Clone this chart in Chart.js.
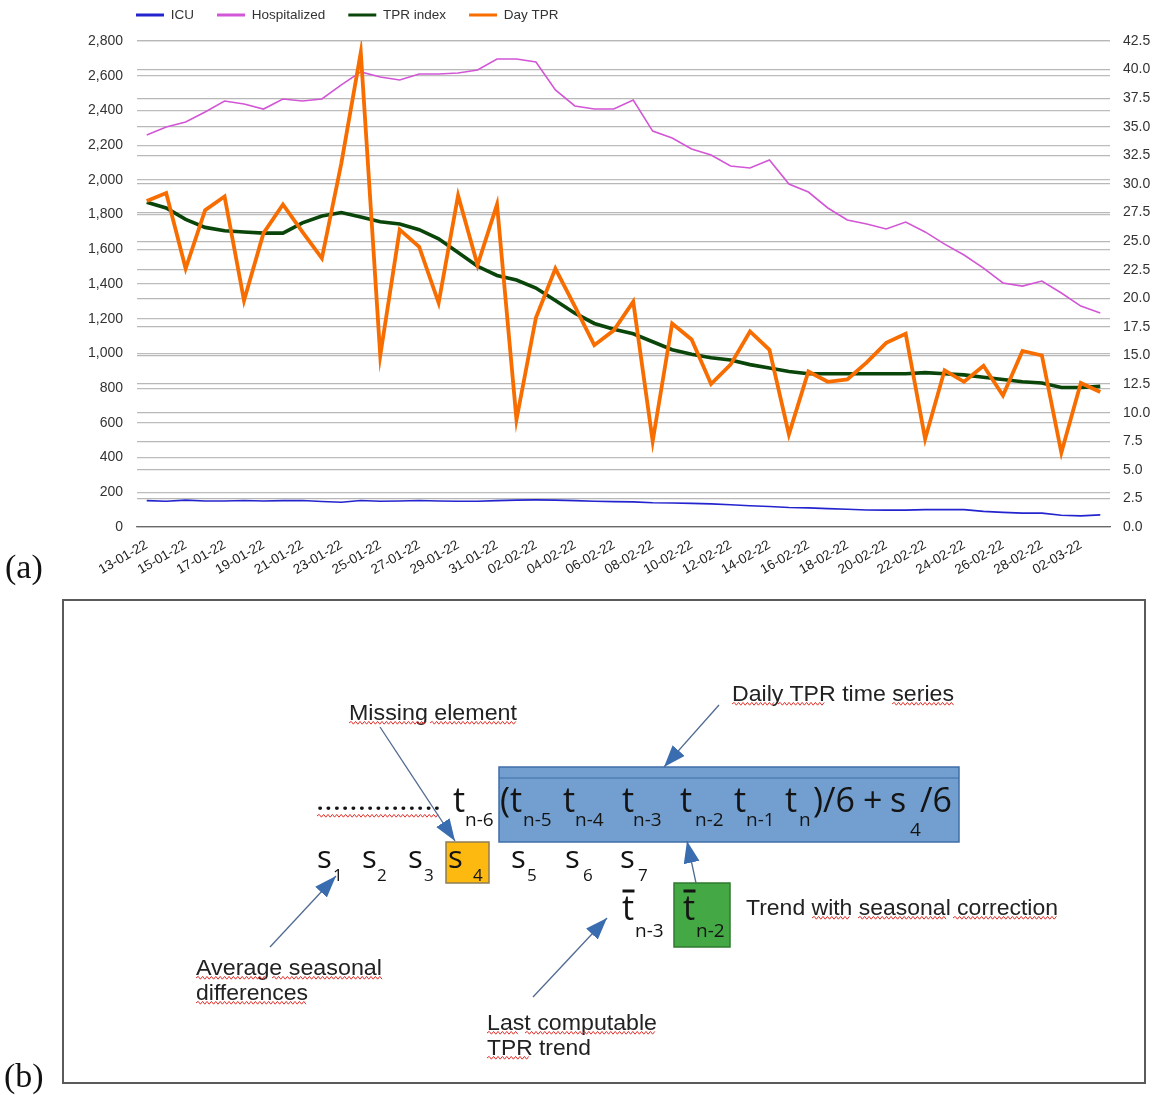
<!DOCTYPE html>
<html>
<head>
<meta charset="utf-8">
<script src="https://cdn.jsdelivr.net/npm/chart.js@4.4.1/dist/chart.umd.min.js"></script>
<style>
  html, body { margin: 0; padding: 0; background: #fff; }
  #wrap { position: relative; width: 1158px; height: 1095px; overflow: hidden; background: #fff; }
  #chart { position: absolute; left: 0; top: 0; }
  #diag { position: absolute; left: 0; top: 0; }
</style>
</head>
<body>
<div id="wrap">
  <canvas id="chart" width="1158" height="600"></canvas>
  <svg id="diag" width="1158" height="1095" xmlns="http://www.w3.org/2000/svg"></svg>
</div>
<script>
// ---------- data ----------
const dates = ['13-01-22','14-01-22','15-01-22','16-01-22','17-01-22','18-01-22','19-01-22','20-01-22','21-01-22','22-01-22',
  '23-01-22','24-01-22','25-01-22','26-01-22','27-01-22','28-01-22','29-01-22','30-01-22','31-01-22','01-02-22',
  '02-02-22','03-02-22','04-02-22','05-02-22','06-02-22','07-02-22','08-02-22','09-02-22','10-02-22','11-02-22',
  '12-02-22','13-02-22','14-02-22','15-02-22','16-02-22','17-02-22','18-02-22','19-02-22','20-02-22','21-02-22',
  '22-02-22','23-02-22','24-02-22','25-02-22','26-02-22','27-02-22','28-02-22','01-03-22','02-03-22','03-03-22'];

const icu = [152,148,155,150,150,153,150,152,153,147,143,153,148,150,153,150,148,148,152,155,
  156,155,152,148,146,145,140,138,136,133,128,122,118,112,110,106,102,98,97,97,
  100,100,100,90,84,80,80,68,64,70];

const hospitalized = [2258,2305,2333,2391,2454,2437,2408,2466,2454,2466,2547,2622,2593,2575,2610,2610,2616,2633,2696,2696,
  2679,2518,2426,2408,2408,2460,2281,2241,2178,2143,2080,2068,2114,1976,1930,1838,1769,1746,1717,1757,
  1700,1630,1567,1492,1406,1388,1417,1348,1273,1233];

const tprIndex = [28.4,27.9,26.9,26.2,25.9,25.8,25.7,25.7,26.6,27.2,27.5,27.1,26.7,26.5,26.0,25.2,24.0,22.8,22.0,21.6,
  20.9,19.8,18.7,17.8,17.3,16.9,16.2,15.5,15.1,14.8,14.6,14.2,13.9,13.6,13.4,13.4,13.4,13.4,13.4,13.4,
  13.5,13.4,13.3,13.1,12.9,12.7,12.6,12.2,12.2,12.3];

const dayTpr = [28.5,29.2,22.6,27.7,28.9,19.8,25.7,28.2,25.8,23.5,31.8,41.5,15.0,26.0,24.5,19.6,29.0,22.9,28.2,9.4,
  18.3,22.6,19.3,15.9,17.2,19.7,7.5,17.8,16.4,12.5,14.2,17.1,15.5,8.1,13.6,12.7,12.9,14.4,16.1,16.9,
  7.7,13.7,12.7,14.1,11.5,15.4,15.0,6.5,12.6,11.8];

const seriesNames = ['ICU', 'Hospitalized', 'TPR index', 'Day TPR'];
const leftTicks = { min: 0, max: 2800, step: 100, labelStep: 200 };
const rightTicks = { min: 0, max: 42.5, step: 2.5 };

// ---------- chart ----------
const FONT = "'Liberation Sans', Arial, sans-serif";
const LEGEND_X = 136, LEGEND_Y = 15, LEGEND_PAD = 23, LEGEND_FS = 13.5;

const legendShift = {
  id: 'legendShift',
  beforeDraw(chart) {
    const lg = chart.legend;
    if (!lg) return;
    lg.left = LEGEND_X - LEGEND_PAD;
    lg.top = LEGEND_Y - LEGEND_FS / 2 - LEGEND_PAD;
    lg.right = chart.width;
  }
};

new Chart(document.getElementById('chart'), {
  type: 'line',
  data: {
    labels: dates,
    datasets: [
      { label: seriesNames[0], data: icu, yAxisID: 'y', borderColor: '#2424cf', backgroundColor: '#2424cf', borderWidth: 1.6, order: 3 },
      { label: seriesNames[1], data: hospitalized, yAxisID: 'y', borderColor: '#d256d6', backgroundColor: '#d256d6', borderWidth: 1.6, order: 2 },
      { label: seriesNames[2], data: tprIndex, yAxisID: 'y1', borderColor: '#0a450a', backgroundColor: '#0a450a', borderWidth: 3.6, order: 1 },
      { label: seriesNames[3], data: dayTpr, yAxisID: 'y1', borderColor: '#f76d00', backgroundColor: '#f76d00', borderWidth: 3.8, order: 0 }
    ]
  },
  options: {
    responsive: false,
    animation: false,
    layout: { padding: 0 },
    elements: { point: { radius: 0 }, line: { tension: 0, fill: false, borderJoinStyle: 'miter' } },
    plugins: {
      tooltip: { enabled: false },
      legend: {
        display: true,
        position: 'top',
        align: 'start',
        maxHeight: 41,
        labels: {
          boxWidth: 28,
          boxHeight: 3,
          padding: LEGEND_PAD,
          color: '#333',
          font: { family: FONT, size: LEGEND_FS },
          sort: (a, b) => a.datasetIndex - b.datasetIndex,
          generateLabels: (chart) => Chart.defaults.plugins.legend.labels.generateLabels(chart).map(it => {
            it.fillStyle = it.strokeStyle; it.lineWidth = 0; return it;
          })
        }
      }
    },
    scales: {
      x: {
        type: 'category',
        offset: true,
        grid: { display: false, drawTicks: false },
        border: { display: true, color: '#6a6a6a', width: 1.2 },
        ticks: {
          autoSkip: false,
          maxRotation: 30, minRotation: 30,
          padding: 10,
          color: '#222',
          font: { family: FONT, size: 13.5 },
          callback: (v, i) => (i % 2 === 0 ? dates[i] : null)
        },
        afterFit: (s) => { s.height = 73; }
      },
      y: {
        type: 'linear',
        position: 'left',
        min: leftTicks.min, max: leftTicks.max,
        border: { display: false },
        grid: {
          drawTicks: false,
          color: (c) => (c.tick && c.tick.value % leftTicks.labelStep === 0 ? '#bdbdbd' : '#dedede'),
          lineWidth: 1.2
        },
        ticks: {
          stepSize: leftTicks.step,
          padding: 14,
          color: '#333',
          font: { family: FONT, size: 14 },
          callback: (v) => (v % leftTicks.labelStep === 0 ? v.toLocaleString('en-US') : '')
        },
        afterFit: (s) => { s.width = 137; }
      },
      y1: {
        type: 'linear',
        position: 'right',
        min: rightTicks.min, max: rightTicks.max,
        border: { display: false },
        grid: { drawTicks: false, drawOnChartArea: true, color: '#b8b8b8', lineWidth: 1.2 },
        ticks: {
          stepSize: rightTicks.step,
          padding: 13,
          color: '#333',
          font: { family: FONT, size: 14 },
          callback: (v) => Number(v).toFixed(1)
        },
        afterFit: (s) => { s.width = 48; }
      }
    }
  },
  plugins: [legendShift]
});

// ---------- panel (b) diagram ----------
const NS = 'http://www.w3.org/2000/svg';
const svg = document.getElementById('diag');
function el(tag, attrs, text) {
  const e = document.createElementNS(NS, tag);
  for (const k in attrs) e.setAttribute(k, attrs[k]);
  if (text !== undefined) e.textContent = text;
  svg.appendChild(e);
  return e;
}
function wave(x1, x2, y) {
  let d = 'M' + x1 + ' ' + y;
  let up = true;
  for (let x = x1 + 2.2; x <= x2; x += 2.2) { d += ' L' + x.toFixed(1) + ' ' + (up ? y - 1.6 : y + 1.2); up = !up; }
  el('path', { d: d, fill: 'none', stroke: '#e0302a', 'stroke-width': 1 });
}

const defs = el('defs', {});
const mk = document.createElementNS(NS, 'marker');
[['id','ah'],['markerUnits','userSpaceOnUse'],['markerWidth','24'],['markerHeight','18'],['refX','22'],['refY','8'],['orient','auto']]
  .forEach(([k, v]) => mk.setAttribute(k, v));
const mp = document.createElementNS(NS, 'path');
mp.setAttribute('d', 'M0,0 L22,8 L0,16 z'); mp.setAttribute('fill', '#3a6cb0');
mk.appendChild(mp); defs.appendChild(mk);

// panel labels
const SERIF = "'Liberation Serif', 'DejaVu Serif', serif";
el('text', { x: 5, y: 578, 'font-family': SERIF, 'font-size': 34, fill: '#111' }, '(a)');
el('text', { x: 4, y: 1087, 'font-family': SERIF, 'font-size': 34, fill: '#111' }, '(b)');

// frame
el('rect', { x: 63, y: 600, width: 1082, height: 483, fill: 'none', stroke: '#5a5a5a', 'stroke-width': 2 });

// boxes
el('rect', { x: 499, y: 767, width: 460, height: 75, fill: '#729fcf', stroke: '#3f6ea8', 'stroke-width': 1.5 });
el('line', { x1: 499, y1: 778, x2: 959, y2: 778, stroke: '#3f6ea8', 'stroke-width': 1 });
el('rect', { x: 446, y: 842, width: 43, height: 41, fill: '#fdb910', stroke: '#8c7d55', 'stroke-width': 1.5 });
el('rect', { x: 674, y: 883, width: 56, height: 64, fill: '#44a844', stroke: '#2f7a2f', 'stroke-width': 1.5 });

// arrows
const arrows = [[719, 705, 664, 767], [380, 727, 455, 841], [270, 947, 336, 876], [533, 997, 607, 918], [696, 883, 687, 841]];
arrows.forEach(a => el('line', { x1: a[0], y1: a[1], x2: a[2], y2: a[3], stroke: '#506a92', 'stroke-width': 1.3, 'marker-end': 'url(#ah)' }));

// callout texts
const SANS = "'Liberation Sans', Arial, sans-serif";
function label(x, y, s, len) {
  el('text', { x: x, y: y, 'font-family': SANS, 'font-size': 22, fill: '#222', textLength: len, lengthAdjust: 'spacingAndGlyphs' }, s);
}
label(732, 701, 'Daily TPR time series', 222);
label(349, 720, 'Missing element', 168);
label(746, 915, 'Trend with seasonal correction', 312);
label(196, 975, 'Average seasonal', 186);
label(196, 1000, 'differences', 112);
label(487, 1030, 'Last computable', 170);
label(487, 1055, 'TPR trend', 104);

// spell-check squiggles
[[732,775,704],[778,826,704],[892,954,704],
 [349,427,723],[430,517,723],
 [812,850,918],[858,948,918],[953,1058,918],
 [196,267,978],[272,382,978],[196,308,1003],
 [487,518,1033],[525,657,1033],[487,531,1058],
 [317,440,816]].forEach(w => wave(w[0], w[1], w[2]));

// math tokens
const MATH = "'Open Sans', 'Noto Sans', sans-serif";
function m(x, y, s, size) { el('text', { x: x, y: y, 'font-family': MATH, 'font-size': size, fill: '#141414' }, s); }
el('text', { x: 317, y: 810, 'font-family': MATH, 'font-size': 22, fill: '#141414', 'font-weight': 'bold', textLength: 123, lengthAdjust: 'spacing' }, '...............');
const tRow = [[453, 465, 'n-6'], [563, 575, 'n-4'], [622, 633, 'n-3'], [680, 695, 'n-2'], [734, 746, 'n-1'], [785, 799, 'n']];
tRow.forEach(t => { m(t[0], 812, 't', 34); m(t[1], 826, t[2], 19); });
m(500, 812, '(t', 34); m(523, 826, 'n-5', 19);
m(813, 812, ')/6', 34); m(863, 812, '+', 34); m(890, 812, 's', 34); m(910, 836, '4', 19); m(920, 812, '/6', 34);

const sRow = [[317, 333, '1'], [362, 377, '2'], [408, 424, '3'], [448, 473, '4'], [511, 527, '5'], [565, 583, '6'], [620, 638, '7']];
sRow.forEach(s => { m(s[0], 868, 's', 31); m(s[1], 881, s[2], 17); });

[[622, 635, 'n-3'], [683, 696, 'n-2']].forEach(t => {
  m(t[0], 920, 't', 34); m(t[1], 937, t[2], 19);
  el('line', { x1: t[0] + 0.5, y1: 891, x2: t[0] + 12.5, y2: 891, stroke: '#141414', 'stroke-width': 3 });
});
</script>
</body>
</html>
